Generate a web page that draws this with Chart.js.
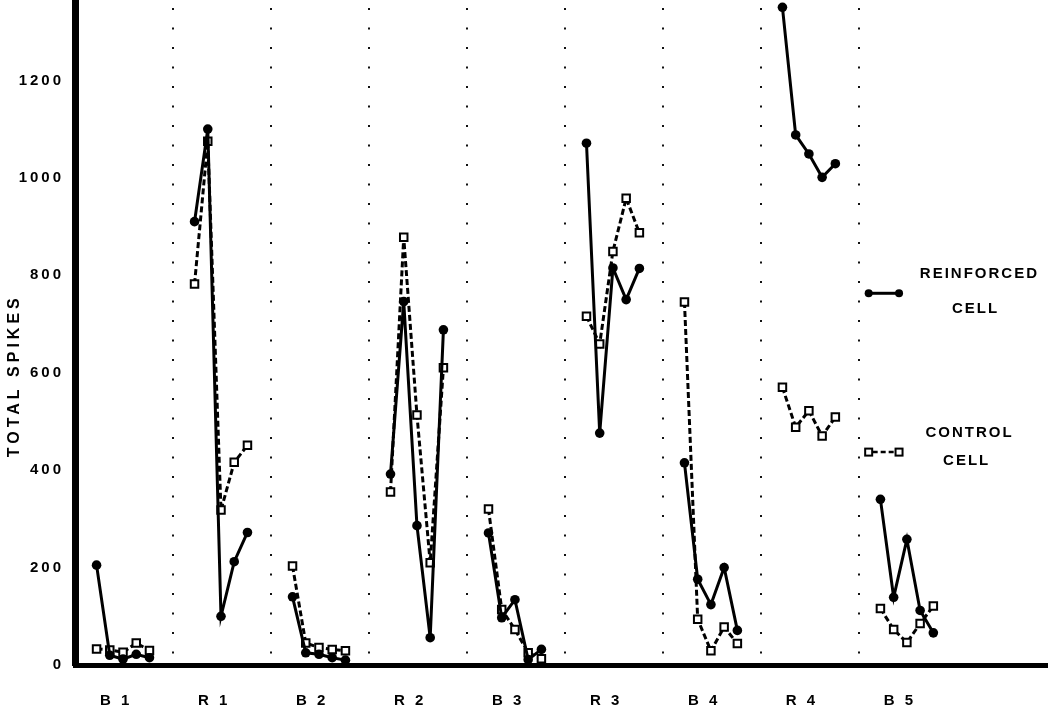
<!DOCTYPE html>
<html>
<head>
<meta charset="utf-8">
<script src="https://cdn.jsdelivr.net/npm/chart.js@4.4.1/dist/chart.umd.min.js"></script>
<style>
  html, body { margin: 0; padding: 0; background: #fff; }
  #chart { display: block; }
</style>
</head>
<body>
<canvas id="chart" width="1050" height="713"></canvas>
<script>
// sessions: baseline (B) and reinforcement (R) periods
const sessions = ["B 1", "R 1", "B 2", "R 2", "B 3", "R 3", "B 4", "R 4", "B 5"];
const yTicks = [0, 200, 400, 600, 800, 1000, 1200];
const perSession = 5;

// total spikes, 5 trials in each session
const reinforcedCell = [
  205, 20, 12, 22, 15,        // B 1
  910, 1100, 100, 212, 272,   // R 1
  140, 25, 22, 15, 10,        // B 2
  392, 746, 286, 56, 688,     // R 2
  271, 97, 134, 11, 32,       // B 3
  1071, 476, 815, 750, 814,   // R 3
  415, 176, 124, 200, 71,     // B 4
  1350, 1088, 1049, 1001, 1029, // R 4
  340, 139, 258, 112, 66      // B 5
];
const controlCell = [
  33, 31, 26, 45, 30,         // B 1
  782, 1075, 318, 416, 451,   // R 1
  203, 45, 36, 32, 29,        // B 2
  355, 878, 513, 210, 610,    // R 2
  320, 114, 73, 25, 13,       // B 3
  716, 659, 849, 958, 887,    // R 3
  745, 94, 29, 78, 44,        // B 4
  570, 488, 522, 470, 509,    // R 4
  116, 73, 46, 85, 121        // B 5
];

// each session is its own little line, a null point breaks it from the next one
function toPoints(values) {
  const pts = [];
  sessions.forEach((s, g) => {
    for (let j = 0; j < perSession; j++) {
      pts.push({ x: g + 0.22 + 0.135 * j, y: values[g * perSession + j] });
    }
    pts.push({ x: g + 0.95, y: null });
  });
  return pts;
}

const FONT = "'Liberation Sans', Arial, sans-serif";

// no extra room for the end labels, the axes sit right at the canvas edges
function noPadding(scale) {
  scale.paddingTop = 0;
  scale.paddingBottom = 0;
  scale.paddingLeft = 0;
  scale.paddingRight = 0;
}

const decor = {
  id: "decor",
  beforeDraw(chart) {
    chart.ctx.letterSpacing = "3px";
  },
  beforeDatasetsDraw(chart) {
    // dotted lines between sessions
    const { ctx, chartArea, scales: { x } } = chart;
    ctx.save();
    ctx.strokeStyle = "#111";
    ctx.lineWidth = 2;
    ctx.setLineDash([2, 17.5]);
    for (let k = 1; k < sessions.length; k++) {
      const px = Math.round(x.getPixelForValue(k));
      ctx.beginPath();
      ctx.moveTo(px, chartArea.top + 8);
      ctx.lineTo(px, chartArea.bottom);
      ctx.stroke();
    }
    ctx.restore();
  },
  afterDraw(chart) {
    const { ctx, chartArea, scales: { x, y } } = chart;
    ctx.save();
    ctx.fillStyle = "#000";
    ctx.strokeStyle = "#000";

    // legend: reinforced
    const x0 = x.getPixelForValue(8.1), x1 = x.getPixelForValue(8.41);
    let py = y.getPixelForValue(763);
    ctx.lineWidth = 3;
    ctx.beginPath(); ctx.moveTo(x0, py); ctx.lineTo(x1, py); ctx.stroke();
    [x0, x1].forEach(px => { ctx.beginPath(); ctx.arc(px, py, 4, 0, Math.PI * 2); ctx.fill(); });

    // legend: control
    py = y.getPixelForValue(437);
    ctx.lineWidth = 2.5;
    ctx.setLineDash([5, 3]);
    ctx.beginPath(); ctx.moveTo(x0 + 4, py); ctx.lineTo(x1 - 4, py); ctx.stroke();
    ctx.setLineDash([]);
    ctx.lineWidth = 2;
    [x0, x1].forEach(px => {
      ctx.fillStyle = "#fff";
      ctx.fillRect(px - 3.5, py - 3.5, 7, 7);
      ctx.strokeRect(px - 3.5, py - 3.5, 7, 7);
    });

    ctx.fillStyle = "#000";
    ctx.font = "bold 15px " + FONT;
    ctx.letterSpacing = "2px";
    ctx.textAlign = "center";
    ctx.textBaseline = "middle";
    ctx.fillText("REINFORCED", x.getPixelForValue(9.23), y.getPixelForValue(802));
    ctx.fillText("CELL", x.getPixelForValue(9.19), y.getPixelForValue(730));
    ctx.fillText("CONTROL", x.getPixelForValue(9.13), y.getPixelForValue(476));
    ctx.fillText("CELL", x.getPixelForValue(9.10), y.getPixelForValue(418));

    // y axis title
    ctx.font = "bold 16px " + FONT;
    ctx.letterSpacing = "4px";
    ctx.translate(15, chartArea.top + chartArea.height * 0.565);
    ctx.rotate(-Math.PI / 2);
    ctx.fillText("TOTAL SPIKES", 0, 0);
    ctx.restore();
    ctx.letterSpacing = "0px";
  }
};

new Chart(document.getElementById("chart").getContext("2d"), {
  type: "line",
  data: {
    datasets: [
      {
        label: "Reinforced cell",
        data: toPoints(reinforcedCell),
        borderColor: "#000",
        borderWidth: 3,
        pointStyle: "circle",
        pointRadius: 4.8,
        pointBackgroundColor: "#000",
        pointBorderColor: "#000",
        pointBorderWidth: 0,
        spanGaps: false,
        clip: false
      },
      {
        label: "Control cell",
        data: toPoints(controlCell),
        borderColor: "#000",
        borderWidth: 3,
        borderDash: [6, 3],
        pointStyle: "rect",
        pointRadius: 5.3,
        pointBackgroundColor: "#fff",
        pointBorderColor: "#000",
        pointBorderWidth: 2,
        spanGaps: false,
        clip: false
      }
    ]
  },
  options: {
    responsive: false,
    animation: false,
    devicePixelRatio: 1,
    layout: { autoPadding: false, padding: { left: 0, right: 3, top: 0, bottom: 0 } },
    plugins: {
      legend: { display: false },
      tooltip: { enabled: false }
    },
    scales: {
      x: {
        type: "linear",
        min: 0,
        max: 9.92,
        grid: { display: false, drawTicks: false },
        border: { display: true, color: "#000", width: 5 },
        afterFit(scale) { scale.height = 48; noPadding(scale); },
        afterBuildTicks(scale) {
          scale.ticks = sessions.map((s, i) => ({ value: i + 0.42 }));
        },
        ticks: {
          padding: 27,
          color: "#000",
          font: { family: FONT, size: 15, weight: "bold" },
          maxRotation: 0,
          autoSkip: false,
          callback: (v, i) => sessions[i]
        }
      },
      y: {
        min: 0,
        max: 1365,
        grid: { display: false, drawTicks: false },
        border: { display: true, color: "#000", width: 7 },
        afterFit(scale) { scale.width = 75; noPadding(scale); },
        afterBuildTicks(scale) {
          scale.ticks = yTicks.map(v => ({ value: v }));
        },
        ticks: {
          padding: 11,
          color: "#000",
          font: { family: FONT, size: 15, weight: "bold" },
          callback: v => String(v)
        }
      }
    }
  },
  plugins: [decor]
});
</script>
</body>
</html>
